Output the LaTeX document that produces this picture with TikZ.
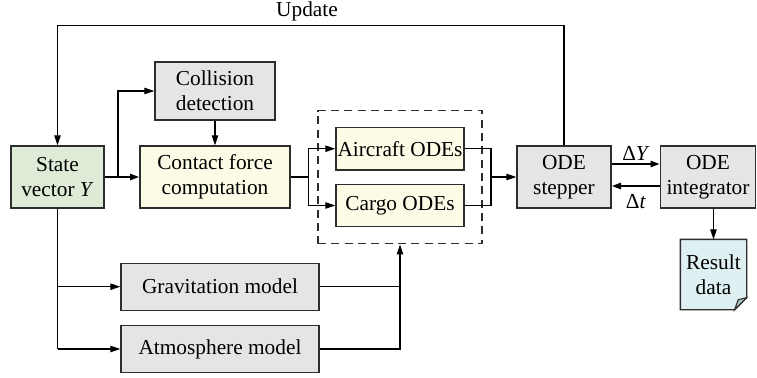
\documentclass[tikz,border=0pt]{standalone}
\usepackage{fontspec}
\setmainfont{Liberation Serif}
\usetikzlibrary{arrows.meta,calc}
\definecolor{bgreen}{RGB}{222,235,214}
\definecolor{byellow}{RGB}{251,251,230}
\definecolor{bgray}{RGB}{229,229,229}
\definecolor{bcyan}{RGB}{222,240,242}
\definecolor{bfold}{RGB}{160,190,190}
\definecolor{edge}{RGB}{45,45,45}
\tikzset{
  box/.style={draw=edge, line width=1pt, rectangle, inner sep=0pt, align=center,
    font=\fontsize{16}{18.8}\selectfont},
  lbl/.style={inner sep=0pt, font=\fontsize{16}{18.8}\selectfont},
  conn/.style={draw=black, line width=0.9pt},
  arr/.style={conn, -{Triangle[length=7.5pt,width=4.8pt]}},
  tarr/.style={draw=black, line width=1.6pt, -{Triangle[length=7pt,width=4.6pt]}},
}
\begin{document}
\begin{tikzpicture}[x=0.75pt,y=-0.75pt]
\useasboundingbox (0,0) rectangle (757,378);
% group
\node[draw=edge, line width=1pt, dashed, dash pattern=on 6pt off 4pt, minimum width=164*0.75pt, minimum height=133*0.75pt, inner sep=0pt] (grp) at (400,177.3) {};
% boxes
\node[box, fill=bgreen, minimum width=93*0.75pt, minimum height=62*0.75pt] (state) at (57.5,177) {State\\vector \textit{Y}};
\node[box, fill=bgray, minimum width=120*0.75pt, minimum height=58*0.75pt] (coll) at (215,91) {Collision\\detection};
\node[box, fill=byellow, minimum width=150*0.75pt, minimum height=62*0.75pt] (contact) at (215,177) {Contact force\\computation};
\node[box, fill=byellow, minimum width=128*0.75pt, minimum height=42.5*0.75pt] (air) at (400,148.7) {Aircraft ODEs};
\node[box, fill=byellow, minimum width=128*0.75pt, minimum height=42.5*0.75pt] (cargo) at (400,205.5) {Cargo ODEs};
\node[box, fill=bgray, minimum width=94*0.75pt, minimum height=62*0.75pt] (stepper) at (564,177) {ODE\\stepper};
\node[box, fill=bgray, minimum width=95*0.75pt, minimum height=62*0.75pt] (integ) at (708,177) {ODE\\integrator};
\node[box, fill=bgray, minimum width=198*0.75pt, minimum height=47*0.75pt] (grav) at (220,286.7) {Gravitation model};
\node[box, fill=bgray, minimum width=198*0.75pt, minimum height=46.5*0.75pt] (atmo) at (220,349) {Atmosphere model};
% result document
\node[box, draw=none, minimum width=65*0.75pt, minimum height=69*0.75pt] (res) at (713.5,274.5) {Result\\data};
\path[fill=bcyan, draw=edge, line width=1pt]
  (res.north west) -- (res.north east) -- ($(res.south east)+(0,-12)$) -- ($(res.south east)+(-12,0)$) -- (res.south west) -- cycle;
\path[fill=bfold, draw=edge, line width=0.8pt]
  ($(res.south east)+(-12,0)$) -- ($(res.south east)+(0,-12)$) -- ($(res.south east)+(-8.5,-10)$) -- cycle;
\node[lbl, align=center] at (res.center) {Result\\data};
% labels
\node[lbl] (updlbl) at (307,11) {Update};
\node[lbl] (dylbl) at (636,153) {\textup{Δ}\textit{Y}};
\node[lbl] (dtlbl) at (636,202) {\textup{Δ}\textit{t}};
% update loop
\draw[arr] (stepper.north) -- ++(0,-120) -| (state.north);
% state -> contact / collision
\draw[tarr] (state.east) -- (contact.west);
\coordinate (b1) at (118,177);
\draw[arr] (b1) |- (coll.west);
\draw[arr] (coll.south) -- (contact.north);
% contact -> ODEs
\coordinate (b2) at (308.5,177);
\draw[conn] (contact.east) -- (b2);
\draw[arr] (b2) |- (air.west);
\draw[arr] (b2) |- (cargo.west);
% ODEs -> stepper
\coordinate (b3) at (491,177);
\draw[conn] (air.east) -| (b3);
\draw[conn] (cargo.east) -| (b3);
\draw[arr] (b3) -- (stepper.west);
% stepper <-> integrator
\draw[tarr] ($(stepper.east)+(0,-13)$) -- ($(integ.west)+(0,-13)$);
\draw[tarr] ($(integ.west)+(0,9)$) -- ($(stepper.east)+(0,9)$);
% integrator -> result
\draw[arr] (res.north |- integ.south) -- (res.north);
% models
\draw[conn] (state.south) -- (state.south |- atmo.west);
\draw[arr] (state.south |- grav.west) -- (grav.west);
\draw[arr] (state.south |- atmo.west) -- (atmo.west);
\draw[conn] (grav.east) -- (grav.east -| grp.south);
\draw[arr] (atmo.east) -| (grp.south);
\end{tikzpicture}
\end{document}
